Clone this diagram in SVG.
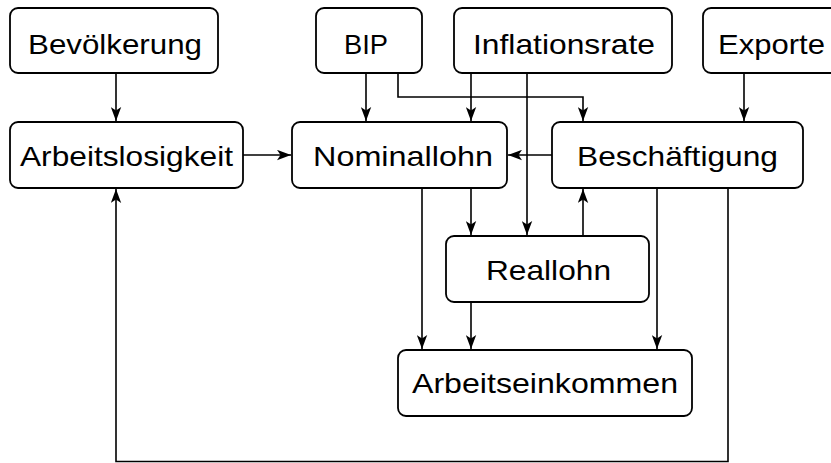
<svg xmlns="http://www.w3.org/2000/svg" width="831" height="463" viewBox="0 0 831 463">
<style>
.box{fill:#fff;stroke:#000;stroke-width:1.8}
.lbl{font-family:"Liberation Sans",Arial,sans-serif;font-size:28px;fill:#000}
.con{fill:none;stroke:#000;stroke-width:1.6}
</style>
<defs>
<marker id="ah" viewBox="0 0 14 11" refX="14" refY="5.5" markerWidth="14" markerHeight="11" markerUnits="userSpaceOnUse" orient="auto">
<path d="M0,0.3 L14,5.5 L0,10.7 L3.5,5.5 Z" fill="#000"/>
</marker>
</defs>
<rect width="831" height="463" fill="#fff"/>
<g id="connectors">
<path class="con" d="M116,73 V121" marker-end="url(#ah)"/>
<path class="con" d="M366,73 V121" marker-end="url(#ah)"/>
<path class="con" d="M398,73 V97 H583 V121" marker-end="url(#ah)"/>
<path class="con" d="M471,73 V121" marker-end="url(#ah)"/>
<path class="con" d="M527,73 V235" marker-end="url(#ah)"/>
<path class="con" d="M744,73 V121" marker-end="url(#ah)"/>
<path class="con" d="M243,155 H291" marker-end="url(#ah)"/>
<path class="con" d="M552,155 H508" marker-end="url(#ah)"/>
<path class="con" d="M471,188 V235" marker-end="url(#ah)"/>
<path class="con" d="M422,188 V349" marker-end="url(#ah)"/>
<path class="con" d="M583,236 V189" marker-end="url(#ah)"/>
<path class="con" d="M471,302 V349" marker-end="url(#ah)"/>
<path class="con" d="M657,188 V349" marker-end="url(#ah)"/>
<path class="con" d="M728,188 V461.5 H116 V189" marker-end="url(#ah)"/>
</g>
<g id="bevoelkerung"><rect class="box" x="10" y="8" width="208" height="65" rx="8"/><text class="lbl" x="28" y="54" textLength="174" lengthAdjust="spacingAndGlyphs">Bevölkerung</text></g>
<g id="bip"><rect class="box" x="316" y="8" width="106" height="65" rx="8"/><text class="lbl" x="344" y="54" textLength="44" lengthAdjust="spacingAndGlyphs">BIP</text></g>
<g id="inflationsrate"><rect class="box" x="454" y="8" width="218" height="65" rx="8"/><text class="lbl" x="473" y="54" textLength="182" lengthAdjust="spacingAndGlyphs">Inflationsrate</text></g>
<g id="exporte"><rect class="box" x="703" y="8" width="140" height="65" rx="8"/><text class="lbl" x="718" y="54" textLength="107" lengthAdjust="spacingAndGlyphs">Exporte</text></g>
<g id="arbeitslosigkeit"><rect class="box" x="10" y="122" width="233" height="66" rx="8"/><text class="lbl" x="20" y="166" textLength="213" lengthAdjust="spacingAndGlyphs">Arbeitslosigkeit</text></g>
<g id="nominallohn"><rect class="box" x="292" y="122" width="215" height="66" rx="8"/><text class="lbl" x="313" y="166" textLength="180" lengthAdjust="spacingAndGlyphs">Nominallohn</text></g>
<g id="beschaeftigung"><rect class="box" x="552" y="122" width="251" height="66" rx="8"/><text class="lbl" x="577" y="166" textLength="201" lengthAdjust="spacingAndGlyphs">Beschäftigung</text></g>
<g id="reallohn"><rect class="box" x="446" y="236" width="203" height="66" rx="8"/><text class="lbl" x="486" y="280" textLength="125" lengthAdjust="spacingAndGlyphs">Reallohn</text></g>
<g id="arbeitseinkommen"><rect class="box" x="398" y="350" width="294" height="66" rx="8"/><text class="lbl" x="412" y="393" textLength="266" lengthAdjust="spacingAndGlyphs">Arbeitseinkommen</text></g>
</svg>
